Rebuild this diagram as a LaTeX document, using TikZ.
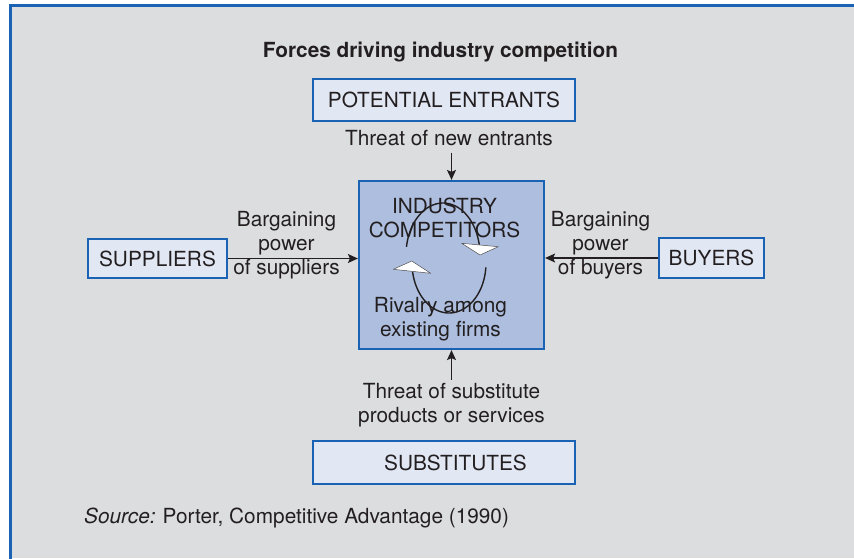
\documentclass[tikz,border=0pt]{standalone}
\usepackage{fontspec}
\setmainfont{TeX Gyre Heros}
\usetikzlibrary{arrows.meta}
\definecolor{bg}{HTML}{DCDDDF}
\definecolor{frameblue}{HTML}{1A62B4}
\definecolor{lightbox}{HTML}{E1E7F3}
\definecolor{midbox}{HTML}{ADBEDF}
\definecolor{ink}{HTML}{231F20}
\begin{document}
\begin{tikzpicture}[x=1pt,y=-1pt,
  every node/.style={font=\fontsize{20.8}{24}\selectfont, text=ink},
  box/.style={draw=frameblue, line width=2pt, fill=lightbox, inner sep=0pt},
  bigbox/.style={draw=frameblue, line width=2.2pt, fill=midbox, inner sep=0pt},
  lbl/.style={inner sep=0pt, align=center},
  force/.style={draw=ink, line width=1.3pt, -{Stealth[length=10pt,width=9pt,inset=2pt]}},
  cyc/.style={draw=ink, line width=1.4pt},
  wedge/.style={fill=white, draw=ink!80, line width=0.5pt, line join=round}
]
\useasboundingbox (0,0) rectangle (854,558);
\fill[white] (0,0) rectangle (854,558);
\fill[bg] (10.7,5.3) rectangle (854,558);
\draw[frameblue, line width=2.8pt] (10.7,560) -- (10.7,5.3) -- (856,5.3);

\node[font=\fontsize{20.8}{24}\selectfont\bfseries, anchor=base, inner sep=0pt] (title) at (440.5,57) {Forces driving industry competition};

\node[box, minimum width=262pt, minimum height=42pt] (pe) at (444,100) {POTENTIAL ENTRANTS};
\node[box, minimum width=139pt, minimum height=39pt] (sup) at (157.5,258.5) {SUPPLIERS};
\node[box, minimum width=105pt, minimum height=40pt] (buy) at (711.5,258) {BUYERS};
\node[box, minimum width=262pt, minimum height=43pt] (subs) at (444,462.5) {\hspace*{23pt}SUBSTITUTES};
\node[bigbox, minimum width=185pt, minimum height=168pt] (ind) at (451.5,265) {};

% rivalry loop
\draw[cyc] plot[domain=171:2, samples=50, variable=\t] ({443+37*cos(\t)},{255-52*sin(\t)});
\draw[cyc] plot[domain=-5:-170, samples=50, variable=\t] ({449+37*cos(\t)},{263-50*sin(\t)});
\filldraw[wedge] (461.7,243.3) -- (498.3,246.7) -- (480,255) -- cycle;
\filldraw[wedge] (393.3,269.3) -- (411.7,261) -- (430.7,273.3) -- cycle;

\node[lbl] (indt) at (444.5,218) {INDUSTRY\\COMPETITORS};
\node[lbl] (rival) at (440.5,318.7) {Rivalry among\\existing firms};

\node[lbl, anchor=base] (tne) at (449,145) {Threat of new entrants};
\node[lbl] (bps) at (286.5,244.7) {Bargaining\\power\\of suppliers};
\node[lbl] (bpb) at (600.5,244.7) {Bargaining\\power\\of buyers};
\node[lbl] (tsub) at (451.5,405.5) {Threat of substitute\\products or services};

\draw[force] ([yshift=-7pt]tne.south -| ind.north) -- (ind.north);
\draw[force] (sup.east) -- (sup.east -| ind.west);
\draw[force] (buy.west) -- (buy.west -| ind.east);
\draw[force] ([yshift=3.5pt]tsub.north -| ind.south) -- (ind.south);

\node[anchor=base west, inner sep=0pt] (src) at (84,523) {\textit{Source:}\hspace{7pt}Porter, Competitive Advantage (1990)};
\end{tikzpicture}
\end{document}
